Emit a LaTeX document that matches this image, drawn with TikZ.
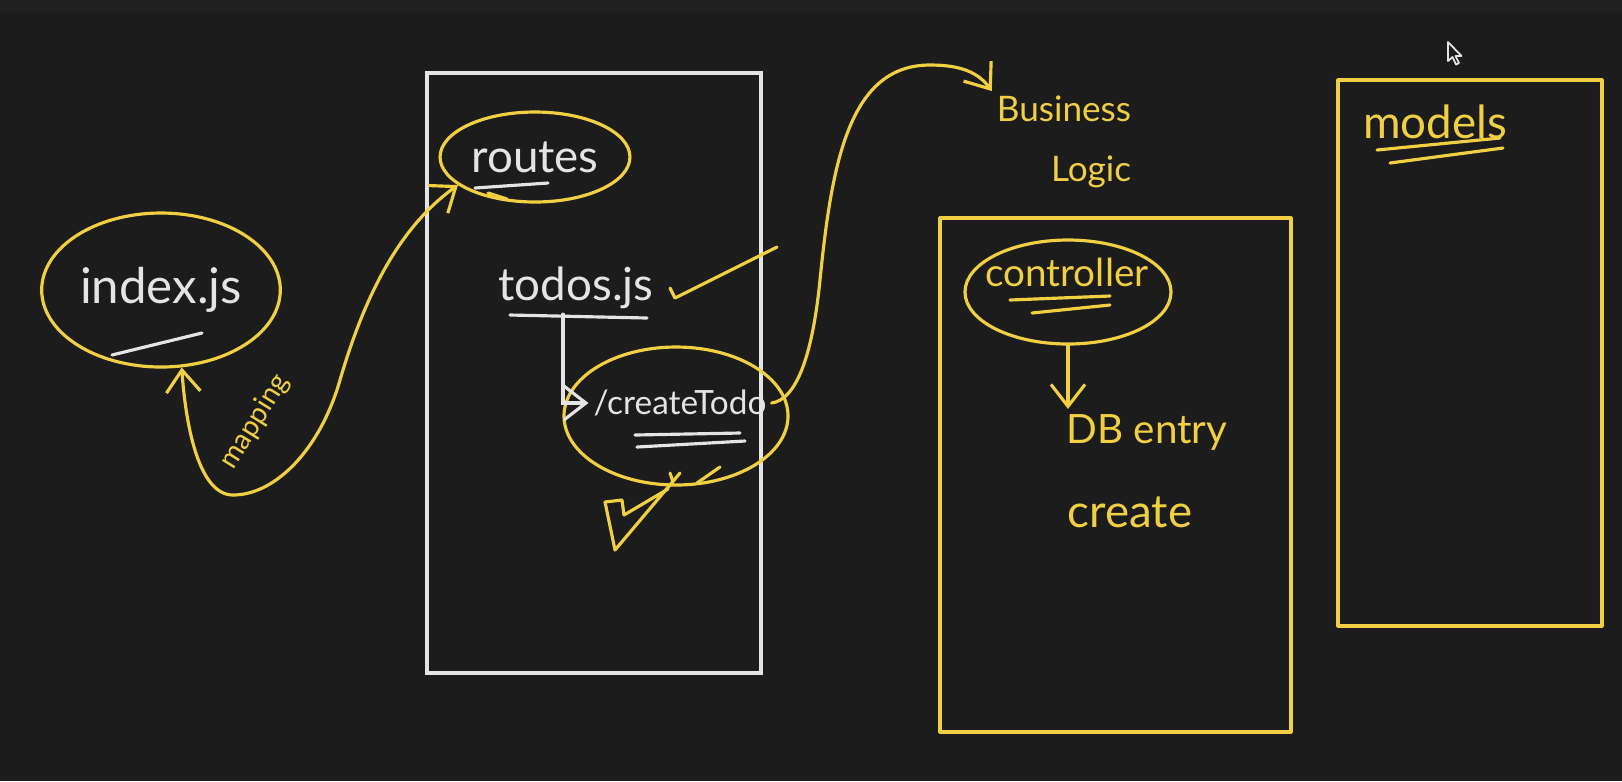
\documentclass[tikz,border=0pt]{standalone}
\usepackage{fontspec}
\setmainfont{Lato}
\usepackage{tikz}
\usetikzlibrary{arrows.meta,calc,positioning,shapes.geometric}
\definecolor{board}{RGB}{28,28,29}
\definecolor{topbar}{RGB}{32,32,33}
\definecolor{marker}{RGB}{240,208,66}
\definecolor{chalk}{RGB}{228,228,228}

\begin{document}
\begin{tikzpicture}[line width=0.9pt,>={Straight Barb[length=2.2mm,width=3.4mm]},
  yel/.style={draw=marker,line width=0.9pt,line cap=round,line join=round},
  wht/.style={draw=chalk,line width=0.9pt,line cap=round},
  oval/.style={ellipse,draw=marker,line width=0.9pt,inner sep=0pt},
  hand/.style={font=\fontsize{#1}{#1}\selectfont,inner sep=1pt}]
\useasboundingbox (0,0) rectangle (16.22,-7.81);
\fill[board] (0,0) rectangle (16.22,-7.81);
\fill[topbar] (0,0) rectangle (16.22,-0.12);
% boxes
\draw[wht] (4.27,-0.73) rectangle (7.61,-6.73);
\draw[yel] (9.40,-2.18) rectangle (12.91,-7.32);
\draw[yel] (13.38,-0.80) rectangle (16.02,-6.26);
% index.js and routes
\node[oval,minimum width=2.32cm,minimum height=1.54cm,text=chalk,hand=14] (idx) at (1.61,-2.90) {index.js};
\draw[wht] (1.12,-3.55) -- (2.02,-3.33);
\node[oval,minimum width=1.70cm,minimum height=0.90cm,text=chalk,hand=13] (routes) at (5.35,-1.57) {routes};
\draw[wht] (4.75,-1.88) -- (5.48,-1.83);
\draw[yel] (4.88,-1.93) -- (5.07,-1.99);
\draw[yel,<->] (idx.285) .. controls (1.86,-4.3) and (2.0,-4.95) .. (2.33,-4.95)
  .. controls (2.75,-4.95) and (3.2,-4.5) .. (3.40,-3.8)
  .. controls (3.62,-3.05) and (3.95,-2.3) .. (routes.200);
\node[text=marker,hand=8,rotate=58] (maplbl) at (2.55,-4.22) {mapping};
% todos.js
\node[text=chalk,hand=13] (todos) at (5.76,-2.88) {todos.js};
\draw[wht] (5.10,-3.15) -- (6.47,-3.18);
\draw[yel] (6.70,-2.88) -- (6.75,-2.98) -- (7.77,-2.47);
\node[oval,minimum width=2.24cm,minimum height=1.38cm] (createov) at (6.76,-4.16) {};
\node[text=chalk,hand=9.5] (createlbl) at (6.80,-4.03) {/createTodo};
\draw[wht] (6.35,-4.35) -- (7.40,-4.33);
\draw[wht] (6.37,-4.47) -- (7.45,-4.41);
\draw[wht,->] ([xshift=-1.3mm]todos.south) |- (createlbl.west);
% big tick
\draw[yel] (6.05,-5.02) -- (6.15,-5.50) -- (6.80,-4.73);
\draw[yel] (6.05,-5.02) -- (6.22,-5.00) -- (6.24,-5.15) -- (6.68,-4.89);
\draw[yel] (6.70,-4.73) -- (6.73,-4.82);
\draw[yel] (6.97,-4.83) -- (7.20,-4.67);
% business logic
\node[text=marker,font=\fontsize{10}{17}\selectfont,inner sep=1pt,align=right] (biz) at (10.64,-1.42) {Business\\Logic};
\draw[yel,->] (createlbl.east) .. controls (7.95,-4.0) and (8.12,-3.6) .. (8.2,-2.8)
  .. controls (8.32,-1.6) and (8.5,-0.65) .. (9.3,-0.65)
  .. controls (9.6,-0.65) and (9.78,-0.72) .. (biz.north west);
\node[oval,minimum width=2.06cm,minimum height=1.04cm] (ctrl) at (10.68,-2.92) {};
\node[text=marker,hand=11] (ctrllbl) at (10.67,-2.72) {controller};
\draw[yel] (10.10,-3.00) -- (11.10,-2.96);
\draw[yel] (10.32,-3.13) -- (11.10,-3.05);
\node[text=marker,hand=11.5] (dbentry) at (11.47,-4.32) {DB entry};
\node[text=marker,hand=13] (createtxt) at (11.30,-5.12) {create};
\draw[yel,->] (ctrl.south) -- (ctrl.south |- dbentry.north);
% models
\node[text=marker,hand=13] (modelslbl) at (14.35,-1.22) {models};
\draw[yel] (13.77,-1.50) -- (15.00,-1.38);
\draw[yel] (13.90,-1.63) -- (15.03,-1.48);
% cursor
\draw[draw=chalk,fill=board,line width=0.5pt,line join=round] (14.48,-0.42) -- ++(0,-0.19) -- ++(0.045,0.04) -- ++(0.035,-0.075) -- ++(0.03,0.015) -- ++(-0.035,0.07) -- ++(0.06,0) -- cycle;
\end{tikzpicture}
\end{document}
